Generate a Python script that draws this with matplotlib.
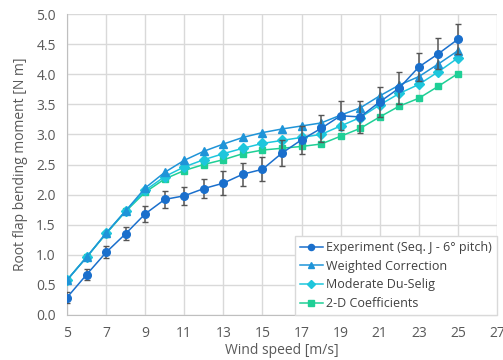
import matplotlib.pyplot as plt
import matplotlib.ticker as tkr
from matplotlib.lines import Line2D

wind = [5, 6, 7, 8, 9, 10, 11, 12, 13, 14, 15, 16, 17, 18, 19, 20, 21, 22, 23, 24, 25]

experiment = [0.29, 0.67, 1.04, 1.35, 1.68, 1.92, 1.98, 2.10, 2.19, 2.34, 2.42, 2.69,
              2.91, 3.10, 3.31, 3.29, 3.54, 3.77, 4.12, 4.34, 4.58]
experiment_err = [0.09, 0.09, 0.10, 0.11, 0.13, 0.14, 0.15, 0.16, 0.20, 0.19, 0.20, 0.21,
                  0.23, 0.22, 0.24, 0.26, 0.25, 0.26, 0.23, 0.26, 0.25]
weighted = [0.58, 0.96, 1.36, 1.73, 2.11, 2.37, 2.57, 2.72, 2.84, 2.95, 3.03, 3.09,
            3.14, 3.19, 3.32, 3.44, 3.64, 3.82, 3.96, 4.17, 4.39]
du_selig = [0.58, 0.96, 1.36, 1.73, 2.07, 2.30, 2.46, 2.58, 2.68, 2.77, 2.85, 2.90,
            2.95, 3.00, 3.14, 3.28, 3.49, 3.68, 3.83, 4.04, 4.27]
coeff_2d = [0.58, 0.96, 1.35, 1.72, 2.04, 2.26, 2.40, 2.50, 2.58, 2.68, 2.74, 2.77,
            2.80, 2.84, 2.97, 3.10, 3.29, 3.47, 3.60, 3.80, 4.01]

x_ticks = [5, 7, 9, 11, 13, 15, 17, 19, 21, 23, 25, 27]

plt.rcParams["font.family"] = ["Open Sans", "DejaVu Sans"]

fig = plt.figure(figsize=(5.03, 3.6), dpi=100)
ax = fig.add_axes([67 / 503, 45 / 360, 430 / 503, 301 / 360])

styles = [
    ("Experiment (Seq. J - 6° pitch)", "#1a6fcc", "o", 5.5),
    ("Weighted Correction", "#1f94d8", "^", 5.5),
    ("Moderate Du-Selig", "#1ec6dc", "D", 5),
    ("2-D Coefficients", "#1fcf96", "s", 5),
]

ax.plot(wind, coeff_2d, color=styles[3][1], marker="s", markersize=5, lw=1.1, zorder=3)
ax.plot(wind, du_selig, color=styles[2][1], marker="D", markersize=5, lw=1.1, zorder=4)
ax.plot(wind, weighted, color=styles[1][1], marker="^", markersize=5.5, lw=1.1, zorder=5)
ax.errorbar(wind, experiment, yerr=experiment_err, color=styles[0][1], marker="o",
            markersize=5.5, lw=1.1, ecolor="#555555", elinewidth=1.1, capsize=2.5,
            capthick=1, zorder=6)

ax.set_xlim(5, 27)
ax.set_ylim(0, 5)
ax.set_xticks(x_ticks)
ax.yaxis.set_major_locator(tkr.MultipleLocator(0.5))
ax.yaxis.set_major_formatter(tkr.FormatStrFormatter("%.1f"))

ax.grid(True, color="#d9d9d9", lw=1)
ax.set_axisbelow(True)
for side in ["top", "right"]:
    ax.spines[side].set_visible(False)
for side in ["left", "bottom"]:
    ax.spines[side].set_color("#bfbfbf")
ax.tick_params(length=0, labelsize=10, colors="#595959", pad=8)

ax.set_xlabel("Wind speed [m/s]", fontsize=10, color="#595959", labelpad=1)
ax.set_ylabel("Root flap bending moment [N m]", fontsize=10, color="#595959", labelpad=6)

handles = [Line2D([], [], color=c, marker=m, markersize=s * 0.8, lw=1.1) for _, c, m, s in styles]
ax.legend(handles, [s[0] for s in styles], loc="lower right", borderaxespad=0,
          fontsize=9, fancybox=False, framealpha=1, edgecolor="#d9d9d9",
          handlelength=1.8, handletextpad=0.3, labelspacing=0.45,
          labelcolor="#404040")

fig.savefig("out.png", dpi=100)
